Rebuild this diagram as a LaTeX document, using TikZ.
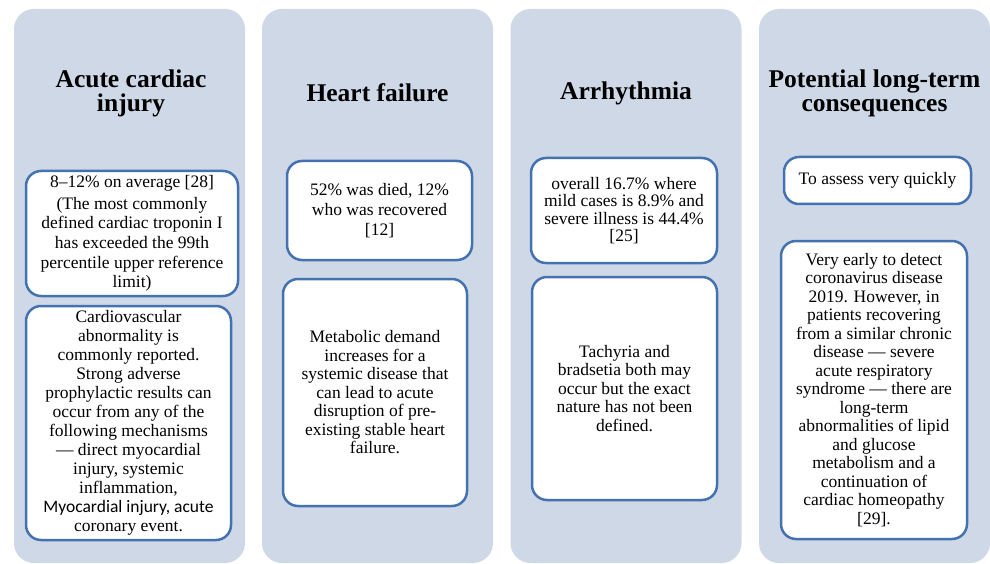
\documentclass[tikz,border=0pt]{standalone}
\usepackage{fontspec}
\setmainfont{Liberation Serif}
\newfontfamily\calibrifont{Carlito}
\definecolor{colfill}{HTML}{CFD8E7}
\definecolor{boxline}{HTML}{4472B0}

\tikzstyle{column} = [rectangle, rounded corners=20pt, fill=colfill,
    minimum width=231pt, minimum height=554pt, inner sep=0pt]
\tikzstyle{heading} = [align=center, font=\fontsize{25.5}{24}\selectfont\bfseries]
\tikzstyle{info} = [rectangle, rounded corners=15pt, draw=boxline, line width=2.5pt,
    fill=white, align=center, inner sep=0pt, font=\fontsize{17.5}{18.5}\selectfont]
\tikzstyle{infos} = [info, font=\fontsize{17.5}{17.5}\selectfont]
\tikzstyle{infow} = [info, font=\fontsize{17.5}{19.6}\selectfont]

\begin{document}
\begin{tikzpicture}[x=1pt,y=-1pt]
	\useasboundingbox (0,0) rectangle (990,564);
	% columns
	\node [column] (cola) at (129.5,286) {};
	\node [column] (colb) at (377.5,286) {};
	\node [column] (colc) at (626,286) {};
	\node [column] (cold) at (874.5,286) {};
	%
	\node [heading] (ha) at (131,93) {Acute cardiac\\injury};
	\node [heading] (hb) at (377.5,93) {Heart failure};
	\node [heading] (hc) at (626,93) {Arrhythmia};
	\node [heading] (hd) at (874.5,93) {Potential long-term\\consequences};
	%
	\node [infow, minimum width=212pt, minimum height=125pt] (aa) at (132,233.5)
		{8--12\% on average [28]\\[2pt](The most commonly\\defined cardiac troponin I\\has exceeded the 99th\\percentile upper reference\\limit)};
	\node [info, font=\fontsize{17.5}{19}\selectfont, minimum width=205pt, minimum height=234pt] (ab) at (128.5,423)
		{Cardiovascular\\abnormality is\\commonly reported.\\Strong adverse\\prophylactic results can\\occur from any of the\\following mechanisms\\--- direct myocardial\\injury, systemic\\inflammation,\\{\calibrifont Myocardial injury, acute}\\coronary event.};
	%
	\node [infow, minimum width=185pt, minimum height=99pt] (ba) at (379.5,210.5)
		{52\% was died, 12\%\\who was recovered\\{[12]}};
	\node [info, minimum width=184pt, minimum height=227pt] (bb) at (375,392.5)
		{Metabolic demand\\increases for a\\systemic disease that\\can lead to acute\\disruption of pre-\\existing stable heart\\failure.};
	%
	\node [infos, minimum width=186pt, minimum height=105pt] (ca) at (624,210.5)
		{overall 16.7\% where\\mild cases is 8.9\% and\\severe illness is 44.4\%\\{[25]}};
	\node [info, minimum width=185pt, minimum height=223pt] (cb) at (624.5,388.5)
		{Tachyria and\\bradsetia both may\\occur but the exact\\nature has not been\\defined.};
	%
	\node [infos, minimum width=187pt, minimum height=47pt] (da) at (877.5,180.5)
		{To assess very quickly};
	\node [info, minimum width=186pt, minimum height=298pt] (db) at (874,390)
		{Very early to detect\\coronavirus disease\\2019. However, in\\patients recovering\\from a similar chronic\\disease --- severe\\acute respiratory\\syndrome --- there are\\long-term\\abnormalities of lipid\\and glucose\\metabolism and a\\continuation of\\cardiac homeopathy\\{[29].}};
\end{tikzpicture}
\end{document}
